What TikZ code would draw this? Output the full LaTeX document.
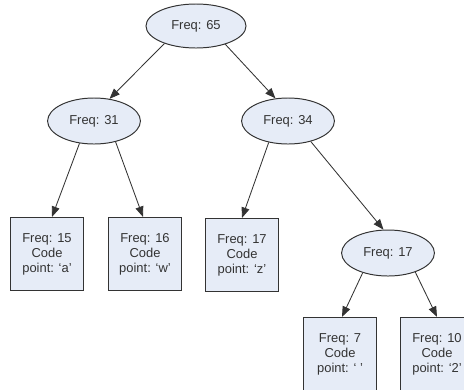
\documentclass[tikz,border=0pt]{standalone}
\usepackage{fontspec}
\setmainfont{Liberation Sans}
\usetikzlibrary{arrows.meta,shapes}
\definecolor{nodefill}{RGB}{230,236,247}
\definecolor{linegray}{RGB}{51,51,51}

\begin{document}
\begin{tikzpicture}[->,>={Triangle[length=2.6mm,width=2mm]},x=0.025cm,y=-0.025cm,thin]
\tikzstyle{every node}=[draw=linegray,fill=nodefill,text=linegray,line width=0.7pt,font=\fontsize{9.2}{10.7}\selectfont,inner sep=0pt]
\tikzstyle{every edge}=[draw=linegray,line width=0.6pt]
\tikzstyle{inner}=[ellipse,minimum width=2.32cm,minimum height=1.15cm]
\tikzstyle{leaf}=[rectangle,minimum width=1.83cm,minimum height=1.83cm,align=center]

\useasboundingbox (0,0) rectangle (464,389);
\clip (0,0) rectangle (464,389);

\node[inner]		(A) [minimum width=2.5cm,minimum height=1.1cm] at (196,26) {Freq: 65};
\node[inner]		(B) at (94,121)  {Freq: 31};
\node[inner]		(C) at (288,121) {Freq: 34};
\node[leaf]		(D) at (47,254)  {Freq: 15\\Code\\point: ‘a’};
\node[leaf]		(E) at (145,254) {Freq: 16\\Code\\point: ‘w’};
\node[leaf]		(F) at (242,255) {Freq: 17\\Code\\point: ‘z’};
\node[inner]		(G) at (388,253) {Freq: 17};
\node[leaf]		(H) at (340,354) {Freq: 7\\Code\\point: ‘ ’};
\node[leaf]		(I) at (437,354) {Freq: 10\\Code\\point: ‘2’};

\path
(A.209) edge (B.55)
(A.328) edge (C.119)
(B.237) edge ([xshift=0.125cm]D.north)
(B.316) edge ([xshift=-0.05cm]E.north)
(C.228) edge (F.north)
(C.318) edge (G.101)
(G.218) edge ([xshift=0.05cm]H.north)
(G.325) edge (I.north)
;
\end{tikzpicture}
\end{document}
